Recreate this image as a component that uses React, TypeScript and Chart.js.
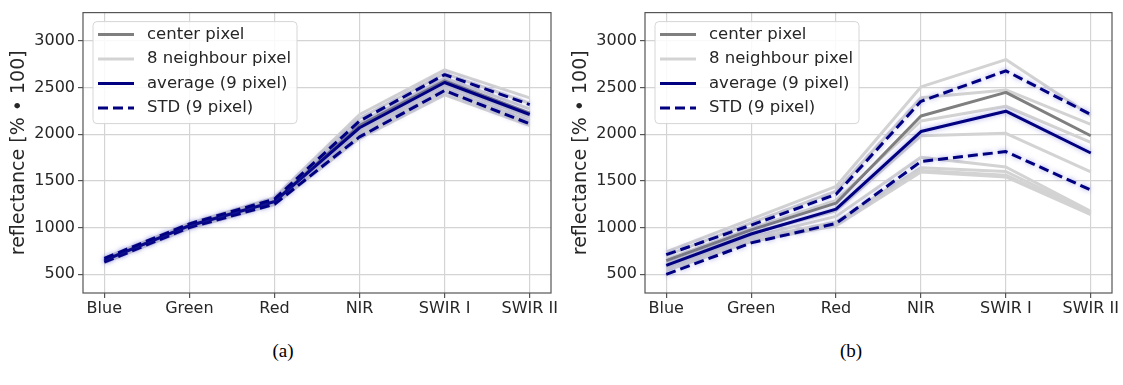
import React, { useEffect, useRef } from 'react';
import { Chart, registerables } from 'chart.js';

Chart.register(...registerables);

// ---------- data ----------
const CATEGORIES = ['Blue', 'Green', 'Red', 'NIR', 'SWIR I', 'SWIR II'];
const Y_TICKS = [500, 1000, 1500, 2000, 2500, 3000];
const Y_TITLE = 'reflectance [% \u2022 100]';
const LEGEND_LABELS = ['center pixel', '8 neighbour pixel', 'average (9 pixel)', 'STD (9 pixel)'];
const CAPTIONS = ['(a)', '(b)'];

// panel (a)
const A_CENTER = [652, 1022, 1280, 2090, 2570, 2225];
const A_NEIGHBOURS = [
  [672, 1045, 1320, 2210, 2688, 2388],
  [665, 1038, 1310, 2170, 2650, 2330],
  [658, 1030, 1295, 2120, 2600, 2270],
  [648, 1020, 1280, 2075, 2560, 2215],
  [642, 1012, 1270, 2040, 2525, 2180],
  [636, 1005, 1262, 2010, 2490, 2145],
  [630, 998, 1252, 1985, 2455, 2115],
  [625, 992, 1245, 1955, 2420, 2090],
];
const A_AVERAGE = [650, 1020, 1278, 2068, 2552, 2210];
const A_STD_UPPER = [670, 1040, 1305, 2140, 2636, 2316];
const A_STD_LOWER = [630, 1000, 1250, 1970, 2466, 2110];

// panel (b)
const B_CENTER = [646, 975, 1261, 2193, 2446, 1982];
const B_NEIGHBOURS = [
  [740, 1090, 1440, 2505, 2797, 2200],
  [700, 1050, 1390, 2390, 2473, 2104],
  [660, 990, 1290, 2140, 2298, 1911],
  [620, 940, 1180, 1982, 2009, 1595],
  [580, 900, 1120, 1753, 1648, 1173],
  [560, 880, 1060, 1640, 1600, 1160],
  [545, 860, 1030, 1610, 1560, 1145],
  [540, 850, 1020, 1595, 1542, 1139],
];
const B_AVERAGE = [595, 931, 1198, 2027, 2245, 1798];
const B_STD_UPPER = [710, 1026, 1356, 2351, 2677, 2210];
const B_STD_LOWER = [500, 836, 1044, 1707, 1813, 1402];

// ---------- styles ----------
const NAVY = '#000080';
const CENTER_COLOR = '#7f7f7f';
const NEIGHBOUR_COLOR = '#d3d3d3';
const TEXT_COLOR = '#262626';
const GRID_COLOR = '#d4d4d4';
const SPINE_COLOR = '#555555';
const DASH = [10, 5];
const FONT = 'DejaVu Sans';

const toPoints = (arr: number[]) => arr.map((v, i) => ({ x: i, y: v }));

function buildDatasets(center: number[], neighbours: number[][], avg: number[], up: number[], lo: number[]) {
  const ds: any[] = [];
  ds.push({ label: LEGEND_LABELS[3], data: toPoints(up), borderColor: NAVY, borderWidth: 3, borderDash: DASH, order: 0, halo: true });
  ds.push({ label: LEGEND_LABELS[3], data: toPoints(lo), borderColor: NAVY, borderWidth: 3, borderDash: DASH, order: 0, halo: true });
  ds.push({ label: LEGEND_LABELS[2], data: toPoints(avg), borderColor: NAVY, borderWidth: 3, order: 1, halo: true });
  ds.push({ label: LEGEND_LABELS[0], data: toPoints(center), borderColor: CENTER_COLOR, borderWidth: 3, order: 2 });
  neighbours.forEach((n) => {
    ds.push({ label: LEGEND_LABELS[1], data: toPoints(n), borderColor: NEIGHBOUR_COLOR, borderWidth: 3, order: 3 });
  });
  return ds.map((d) => ({ ...d, pointRadius: 0, tension: 0, fill: false, borderJoinStyle: 'round' }));
}

const haloPlugin = {
  id: 'halo',
  beforeDatasetDraw(chart: any, args: any) {
    const ds = chart.data.datasets[args.index];
    if (ds.halo) {
      chart.ctx.save();
      chart.ctx.shadowColor = 'rgba(70,70,210,0.5)';
      chart.ctx.shadowBlur = 5;
    }
  },
  afterDatasetDraw(chart: any, args: any) {
    const ds = chart.data.datasets[args.index];
    if (ds.halo) chart.ctx.restore();
  },
};

const framePlugin = {
  id: 'frame',
  afterDatasetsDraw(chart: any) {
    const { ctx, chartArea: a } = chart;
    ctx.save();
    ctx.strokeStyle = SPINE_COLOR;
    ctx.lineWidth = 1.2;
    ctx.strokeRect(a.left, a.top, a.right - a.left, a.bottom - a.top);
    ctx.restore();
  },
};

const legendPlugin = {
  id: 'boxLegend',
  afterDraw(chart: any) {
    const { ctx, chartArea: a } = chart;
    const x0 = a.left + 10;
    const y0 = a.top + 9;
    const w = 204;
    const h = 102;
    ctx.save();
    ctx.beginPath();
    const r = 4;
    ctx.moveTo(x0 + r, y0);
    ctx.arcTo(x0 + w, y0, x0 + w, y0 + h, r);
    ctx.arcTo(x0 + w, y0 + h, x0, y0 + h, r);
    ctx.arcTo(x0, y0 + h, x0, y0, r);
    ctx.arcTo(x0, y0, x0 + w, y0, r);
    ctx.closePath();
    ctx.fillStyle = 'rgba(255,255,255,0.85)';
    ctx.fill();
    ctx.strokeStyle = '#d6d6d6';
    ctx.lineWidth = 1;
    ctx.stroke();
    const styles = [
      { color: CENTER_COLOR, dash: [] as number[] },
      { color: NEIGHBOUR_COLOR, dash: [] as number[] },
      { color: NAVY, dash: [] as number[] },
      { color: NAVY, dash: DASH },
    ];
    ctx.font = `16.5px "${FONT}"`;
    ctx.textBaseline = 'middle';
    ctx.fillStyle = TEXT_COLOR;
    LEGEND_LABELS.forEach((lab, i) => {
      const yy = y0 + 13 + i * 24.5;
      ctx.beginPath();
      ctx.setLineDash(styles[i].dash);
      ctx.strokeStyle = styles[i].color;
      ctx.lineWidth = 3;
      ctx.moveTo(x0 + 5, yy);
      ctx.lineTo(x0 + 41, yy);
      ctx.stroke();
      ctx.setLineDash([]);
      ctx.fillText(lab, x0 + 54, yy);
    });
    ctx.restore();
  },
};

function makeConfig(datasets: any[]) {
  return {
    type: 'line' as const,
    data: { datasets },
    plugins: [haloPlugin, framePlugin, legendPlugin],
    options: {
      animation: false as const,
      responsive: false,
      devicePixelRatio: 1,
      layout: { padding: { left: 0, right: 11, top: 8, bottom: 0 } },
      plugins: { legend: { display: false }, tooltip: { enabled: false } },
      scales: {
        x: {
          type: 'linear' as const,
          min: -0.25,
          max: 5.25,
          afterBuildTicks: (s: any) => { s.ticks = CATEGORIES.map((_, i) => ({ value: i })); },
          afterFit: (s: any) => { s.height = 37; },
          ticks: {
            callback: (v: any) => CATEGORIES[v] ?? '',
            color: TEXT_COLOR,
            font: { family: FONT, size: 16 },
            padding: 1,
            maxRotation: 0,
            autoSkip: false,
          },
          grid: { color: GRID_COLOR, lineWidth: 1.2, tickColor: SPINE_COLOR, tickLength: 5 },
          border: { display: false },
        },
        y: {
          type: 'linear' as const,
          min: 300,
          max: 3300,
          afterBuildTicks: (s: any) => { s.ticks = Y_TICKS.map((v) => ({ value: v })); },
          afterFit: (s: any) => { s.width = 83; },
          ticks: {
            callback: (v: any) => String(v),
            color: TEXT_COLOR,
            font: { family: FONT, size: 16 },
            padding: 3,
          },
          grid: { color: GRID_COLOR, lineWidth: 1.2, tickColor: SPINE_COLOR, tickLength: 5 },
          border: { display: false },
          title: {
            display: true,
            text: Y_TITLE,
            color: TEXT_COLOR,
            font: { family: FONT, size: 19 },
            padding: { top: 8, bottom: 0 },
          },
        },
      },
    },
  };
}

function Panel({ datasets, left, width }: { datasets: any[]; left: number; width: number }) {
  const ref = useRef<HTMLCanvasElement>(null);
  useEffect(() => {
    if (!ref.current) return;
    const chart = new Chart(ref.current, makeConfig(datasets) as any);
    return () => chart.destroy();
  }, [datasets]);
  return (
    <canvas
      ref={ref}
      width={width}
      height={330}
      style={{ position: 'absolute', left, top: 0, width, height: 330 }}
    />
  );
}

const DATA_A = buildDatasets(A_CENTER, A_NEIGHBOURS, A_AVERAGE, A_STD_UPPER, A_STD_LOWER);
const DATA_B = buildDatasets(B_CENTER, B_NEIGHBOURS, B_AVERAGE, B_STD_UPPER, B_STD_LOWER);

export default function App() {
  useEffect(() => {
    document.body.style.margin = '0';
  }, []);
  const captionStyle = (cx: number): React.CSSProperties => ({
    position: 'absolute',
    left: cx - 30,
    width: 60,
    top: 338,
    textAlign: 'center',
    fontFamily: '"Liberation Serif", serif',
    fontSize: 19,
    lineHeight: '26px',
    color: '#000',
  });
  return (
    <div style={{ position: 'fixed', left: 0, top: 0, width: 1123, height: 385, background: '#fff' }}>
      <Panel datasets={DATA_A} left={0} width={562} />
      <Panel datasets={DATA_B} left={562} width={561} />
      <div style={captionStyle(283)}>{CAPTIONS[0]}</div>
      <div style={captionStyle(851)}>{CAPTIONS[1]}</div>
    </div>
  );
}
